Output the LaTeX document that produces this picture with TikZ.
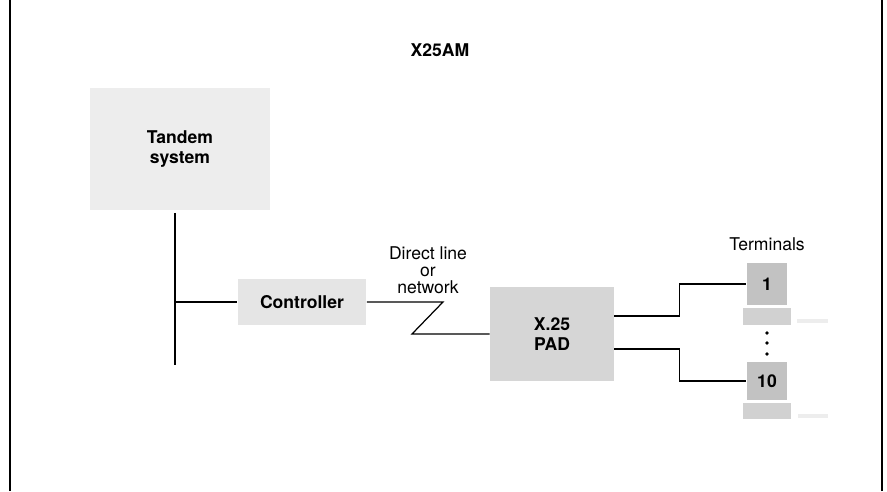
\documentclass[tikz,border=0pt]{standalone}
\usepackage{fontspec}
\setmainfont{TeX Gyre Heros}
\usepackage{tikz}
\usetikzlibrary{positioning, calc}
\definecolor{Shade_Host}{gray}{0.93}
\definecolor{Shade_Ctrl}{gray}{0.90}
\definecolor{Shade_Pad}{gray}{0.84}
\definecolor{Shade_Band}{gray}{0.82}
\definecolor{Shade_Term}{gray}{0.76}
\definecolor{Shade_Faint}{gray}{0.93}

\begin{document}
\begin{tikzpicture}[x=0.02cm, y=0.02cm, font=\fontsize{10}{9.8}\selectfont,
    shadebox/.style={inner sep=0pt, align=center, font=\fontsize{10}{11}\selectfont\bfseries},
    wire/.style={line width=0.7pt}]
    \useasboundingbox (0,0) rectangle (887,491);

    % Frame sides
    \draw[line width=1.1pt] (10,0) -- (10,491);
    \draw[line width=1.1pt] (882,0) -- (882,491);

    % Title
    \node[font=\fontsize{10}{11}\selectfont\bfseries] (title) at (440,441) {X25AM};

    % Host system and its bus
    \node[shadebox, fill=Shade_Host, minimum width=3.6cm, minimum height=2.46cm] (tandem) at (180,342) {Tandem\\system};
    \coordinate (bustop) at (175,278);
    \coordinate (busbot) at (175,126);
    \coordinate (busjoin) at (175,189);
    \draw[wire] (bustop) -- (busbot);

    % Controller
    \node[shadebox, fill=Shade_Ctrl, minimum width=2.58cm, minimum height=0.94cm] (ctrl) at (302,189) {Controller};
    \draw[wire] (busjoin) -- (ctrl.west);

    % Line or network to the PAD
    \node[align=center] (netlabel) at (428,221) {Direct line\\or\\network};
    \node[shadebox, fill=Shade_Pad, minimum width=2.48cm, minimum height=1.9cm] (pad) at (552,157) {X.25\\PAD};
    \coordinate (zigtop) at (443,189);
    \coordinate (zigbot) at (412,157);
    \draw[wire] (ctrl.east) -- (zigtop) -- (zigbot) -- (pad.west);

    % Terminals
    \node (termlabel) at (767,247) {Terminals};
    \node[shadebox, fill=Shade_Term, minimum width=0.82cm, minimum height=0.84cm] (term1) at (767,207) {1};
    \node[shadebox, fill=Shade_Band, minimum width=0.98cm, minimum height=0.34cm, below=0.04cm of term1] (band1) {};
    \node[shadebox, fill=Shade_Term, minimum width=0.82cm, minimum height=0.76cm] (term10) at (767,110) {10};
    \node[shadebox, fill=Shade_Band, minimum width=0.98cm, minimum height=0.32cm, below=0.04cm of term10] (band10) {};
    \fill[Shade_Faint] (797,168) rectangle (828,172);
    \fill[Shade_Faint] (798,73) rectangle (828,77);
    \foreach \dy in {158,148,137}
        \fill (767,\dy) circle (1.8);

    % PAD to terminals
    \draw[wire] ($(pad.east)+(0,18)$) -- ++(65,0) |- (term1.west);
    \draw[wire] ($(pad.east)+(0,-15)$) -- ++(65,0) |- (term10.west);
\end{tikzpicture}
\end{document}
